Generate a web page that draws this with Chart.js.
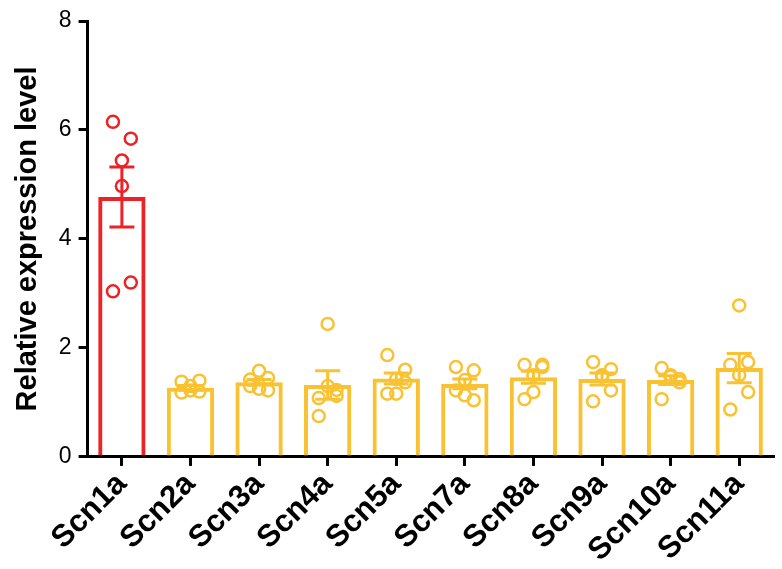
<!DOCTYPE html>
<html>
<head>
<meta charset="utf-8">
<script src="https://cdn.jsdelivr.net/npm/chart.js@4.4.1/dist/chart.umd.min.js"></script>
<style>
body{margin:0;background:#fff}
#wrap{width:782px;height:569px;position:relative}
</style>
</head>
<body>
<div id="wrap"><canvas id="myChart"></canvas></div>
<script>
var labels = ['Scn1a','Scn2a','Scn3a','Scn4a','Scn5a','Scn7a','Scn8a','Scn9a','Scn10a','Scn11a']
var means = [4.77, 1.27, 1.37, 1.32, 1.44, 1.34, 1.46, 1.43, 1.41, 1.63]
var sem = [0.55, 0.04, 0.05, 0.26, 0.10, 0.09, 0.11, 0.11, 0.08, 0.27]
var yTicks = [0, 2, 4, 6, 8]

// individual samples per gene
var scn1a = [6.15, 5.84, 5.44, 4.97, 3.04, 3.20]
var scn2a = [1.38, 1.40, 1.22, 1.30, 1.18, 1.20]
var scn3a = [1.42, 1.45, 1.58, 1.25, 1.30, 1.22]
var scn4a = [1.08, 1.12, 2.44, 1.30, 0.75, 1.23]
var scn5a = [1.87, 1.60, 1.43, 1.16, 1.16, 1.37]
var scn7a = [1.65, 1.59, 1.41, 1.13, 1.22, 1.04]
var scn8a = [1.69, 1.69, 1.50, 1.19, 1.06, 1.65]
var scn9a = [1.74, 1.61, 1.47, 1.50, 1.02, 1.22]
var scn10a = [1.63, 1.43, 1.47, 1.50, 1.06, 1.37]
var scn11a = [1.69, 1.74, 2.78, 1.50, 0.87, 1.19]
var samples = [scn1a, scn2a, scn3a, scn4a, scn5a, scn7a, scn8a, scn9a, scn10a, scn11a]

var RED = '#ED2227'
var YEL = '#F9C232'
var colors = labels.map(function(l, i){ return i == 0 ? RED : YEL })

// small horizontal spread so the circles don't sit on top of each other
var spread = [-0.13, 0.13, 0, 0, -0.13, 0.13]
var pts = [], ptColors = []
samples.forEach(function(arr, i){
    arr.forEach(function(v, j){
        pts.push({x: i + spread[j % spread.length], y: v})
        ptColors.push(colors[i])
    })
})

var errorBars = {
    id: 'errorBars',
    afterDatasetsDraw: function(chart){
        var ctx = chart.ctx
        var xs = chart.scales.x, ys = chart.scales.y
        ctx.save()
        ctx.lineWidth = 3
        means.forEach(function(m, i){
            var cx = xs.getPixelForValue(i)
            var t = ys.getPixelForValue(m + sem[i])
            var b = ys.getPixelForValue(m - sem[i])
            ctx.strokeStyle = colors[i]
            ctx.beginPath()
            ctx.moveTo(cx, t); ctx.lineTo(cx, b)
            ctx.moveTo(cx - 12.5, t); ctx.lineTo(cx + 12.5, t)
            ctx.moveTo(cx - 12.5, b); ctx.lineTo(cx + 12.5, b)
            ctx.stroke()
        })
        ctx.restore()
    }
}

var ctx = document.getElementById('myChart').getContext('2d')
var myChart = new Chart(ctx, {
    type: 'bar',
    data: {
        labels: labels,
        datasets: [{
            data: means,
            backgroundColor: 'rgba(255,255,255,0)',
            borderColor: colors,
            borderWidth: 4,
            grouped: false,
            categoryPercentage: 1,
            barPercentage: 0.69,
            order: 2
        }, {
            type: 'scatter',
            data: pts,
            xAxisID: 'xs',
            pointRadius: 6,
            pointBorderWidth: 2.5,
            pointBackgroundColor: 'rgba(255,255,255,0)',
            pointBorderColor: ptColors,
            order: 1
        }]
    },
    options: {
        responsive: true,
        maintainAspectRatio: false,
        animation: false,
        layout: { padding: { top: 21, right: 4, left: 11, bottom: 0 } },
        plugins: { legend: { display: false }, tooltip: { enabled: false } },
        scales: {
            x: {
                type: 'category',
                offset: true,
                border: { display: true, color: '#000', width: 3 },
                grid: { offset: false, drawOnChartArea: false, drawTicks: true, tickLength: 9, color: '#000', lineWidth: 3 },
                ticks: {
                    autoSkip: false,
                    maxRotation: 45,
                    minRotation: 45,
                    color: '#000',
                    padding: 0,
                    font: { family: 'Liberation Sans, Arial, sans-serif', size: 31, weight: 'bold' }
                }
            },
            xs: {
                type: 'linear',
                min: -0.5,
                max: labels.length - 0.5,
                offset: false,
                grid: { offset: false },
                display: false
            },
            y: {
                min: 0,
                max: 8,
                afterBuildTicks: function(axis){
                    axis.ticks = yTicks.map(function(v){ return {value: v} })
                },
                border: { display: true, color: '#000', width: 3 },
                grid: { drawOnChartArea: false, drawTicks: true, tickLength: 9, color: '#000', lineWidth: 3 },
                ticks: {
                    color: '#000',
                    padding: 7,
                    font: { family: 'Liberation Sans, Arial, sans-serif', size: 23 }
                },
                title: {
                    display: true,
                    text: 'Relative expression level',
                    color: '#000',
                    padding: { top: 0, bottom: 6 },
                    font: { family: 'Liberation Sans, Arial, sans-serif', size: 29, weight: 'bold' }
                }
            }
        }
    },
    plugins: [errorBars]
})
</script>
</body>
</html>
